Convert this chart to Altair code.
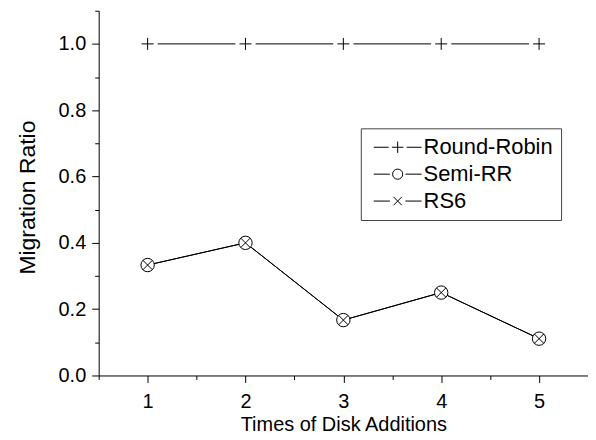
import altair as alt
import pandas as pd

times = [1, 2, 3, 4, 5]
series_names = ["Round-Robin", "Semi-RR", "RS6"]
round_robin = [1.0, 1.0, 1.0, 1.0, 1.0]
semi_rr = [0.333, 0.4, 0.167, 0.25, 0.111]
rs6 = [0.333, 0.4, 0.167, 0.25, 0.111]
x_ticks = [0.5, 1, 1.5, 2, 2.5, 3, 3.5, 4, 4.5, 5, 5.5]
y_ticks = [0.0, 0.1, 0.2, 0.3, 0.4, 0.5, 0.6, 0.7, 0.8, 0.9, 1.0, 1.1]

rows = []
for name, vals in zip(series_names, [round_robin, semi_rr, rs6]):
    for t, v in zip(times, vals):
        rows.append({"t": t, "ratio": v, "series": name})
df = pd.DataFrame(rows)

FONT = "Liberation Sans"
PLUS = "M-1,0H1M0,-1V1"
XMARK = "M-0.7,-0.7L0.7,0.7M-0.7,0.7L0.7,-0.7"
LEG_PLUS = "M-4,0H-1.5M-0.95,0H0.95M0,-0.95V0.95M1.5,0H4"
LEG_CIRC = "M-4,0H-1.3M-0.85,0A0.85,0.85,0,1,1,0.85,0A0.85,0.85,0,1,1,-0.85,0M1.3,0H4"
LEG_X = "M-4,0H-1.3M-0.7,-0.7L0.7,0.7M-0.7,0.7L0.7,-0.7M1.3,0H4"

x_axis = alt.Axis(
    values=x_ticks,
    title="Times of Disk Additions",
    tickSize={"condition": {"test": "datum.value % 1 === 0", "value": 7}, "value": 4},
    labelExpr="datum.value % 1 === 0 ? format(datum.value, 'd') : ''",
    labelPadding=9,
    labelFontSize=20,
    labelOverlap=False,
    labelFlush=False,
    titleFontSize=20,
    titleY=55,
    titleBaseline="alphabetic",
    grid=False,
)
y_axis = alt.Axis(
    values=y_ticks,
    title="Migration Ratio",
    tickSize={"condition": {"test": "round(datum.value*10) % 2 === 0", "value": 7}, "value": 4},
    labelExpr="round(datum.value*10) % 2 === 0 ? format(datum.value, '.1f') : ''",
    labelPadding=6,
    labelFontSize=20,
    labelOverlap=False,
    labelFlush=False,
    titleFontSize=23,
    titleX=-64,
    titleY=187,
    titleAngle=270,
    titleBaseline="alphabetic",
    titleAlign="center",
    grid=False,
)

X = alt.X("t:Q", scale=alt.Scale(domain=[0.5, 5.5], nice=False, zero=False), axis=x_axis)
Y = alt.Y("ratio:Q", scale=alt.Scale(domain=[0, 1.1], nice=False, zero=False), axis=y_axis)

base = alt.Chart(df)

lines = base.mark_line(color="black", strokeWidth=1).encode(x=X, y=Y, detail="series:N")

rr_gap = base.transform_filter("datum.series === 'Round-Robin'").mark_point(
    shape="circle", filled=True, color="white", opacity=1, size=420
).encode(x=X, y=Y)

rr_plus = base.transform_filter("datum.series === 'Round-Robin'").mark_point(
    shape=PLUS, filled=False, color="black", opacity=1, size=144, strokeWidth=1
).encode(x=X, y=Y)

semi_circ = base.transform_filter("datum.series === 'Semi-RR'").mark_point(
    shape="circle", filled=True, fill="white", stroke="black", opacity=1, size=180, strokeWidth=1
).encode(x=X, y=Y)

rs6_x = base.transform_filter("datum.series === 'RS6'").mark_point(
    shape=XMARK, filled=False, color="black", opacity=1, size=180, strokeWidth=1
).encode(x=X, y=Y)

legend_layer = base.transform_filter("false").mark_point(
    filled=False, color="black", opacity=1, strokeWidth=1
).encode(
    x=X,
    y=Y,
    shape=alt.Shape(
        "series:N",
        scale=alt.Scale(domain=series_names, range=[LEG_PLUS, LEG_CIRC, LEG_X]),
        legend=alt.Legend(
            title=None,
            orient="none",
            legendX=263,
            legendY=118,
            labelFontSize=22,
            labelFont=FONT,
            labelColor="black",
            symbolSize=144,
            symbolStrokeWidth=1,
            symbolStrokeColor="black",
            symbolOffset=18,
            labelOffset=15,
            padding=8,
            rowPadding=5,
            strokeColor="#444444",
            fillColor="white",
        ),
    ),
)

chart = alt.layer(lines, rr_gap, rr_plus, semi_circ, rs6_x, legend_layer).properties(
    width=491,
    height=366,
    autosize=alt.AutoSizeParams(type="none"),
    padding={"left": 91, "top": 2, "right": 0, "bottom": 60},
    background="white",
).configure_view(stroke=None).configure_axis(
    labelFont=FONT,
    titleFont=FONT,
    labelColor="black",
    titleColor="black",
    titleFontWeight="normal",
    domainColor="black",
    tickColor="black",
    domainWidth=1,
    tickWidth=1,
)

chart.save("out.html", embed_options={"renderer": "svg", "actions": False})
